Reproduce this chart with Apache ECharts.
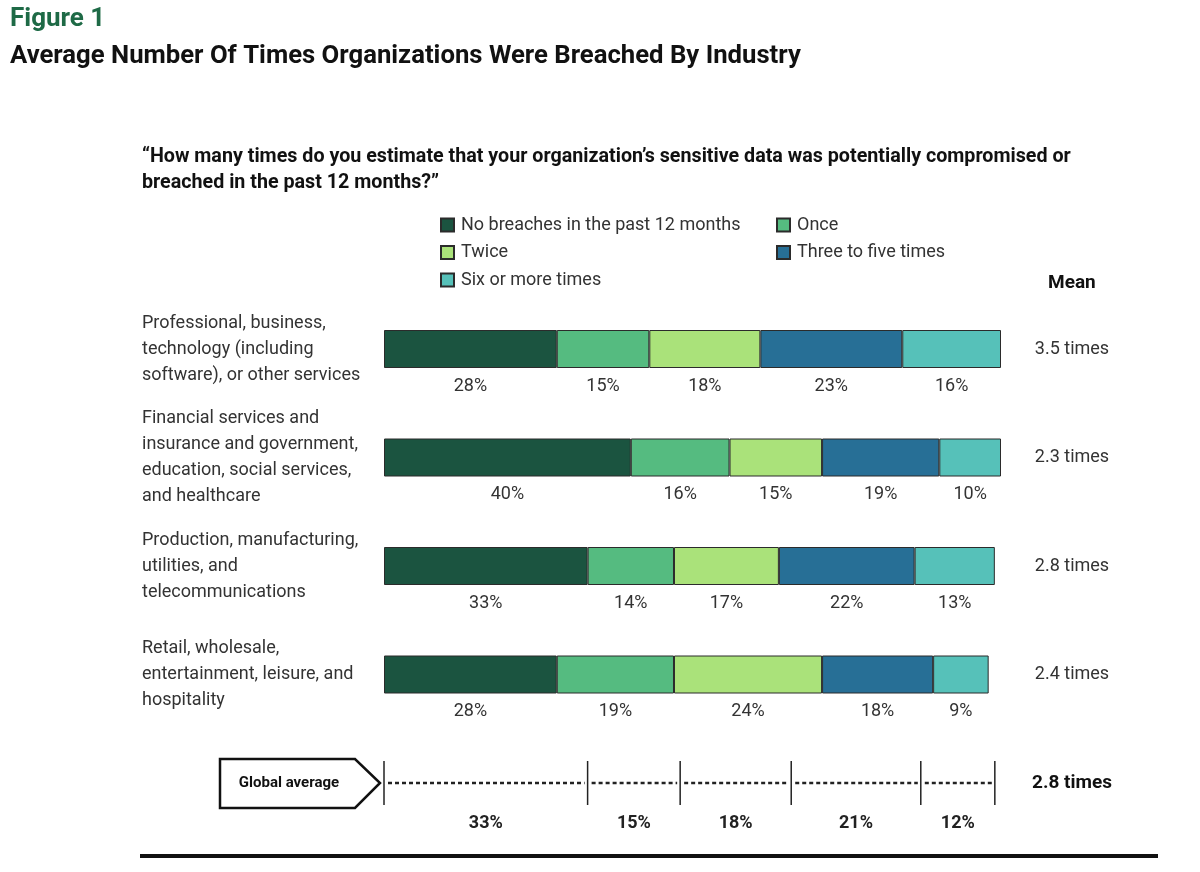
<!DOCTYPE html>
<html>
<head>
<meta charset="utf-8">
<script src="https://cdn.jsdelivr.net/npm/echarts@6/dist/echarts.min.js"></script>
<style>html,body{margin:0;padding:0;background:#fff;}#c{width:1200px;height:872px;}</style>
</head>
<body>
<div id="c"></div>
<script>
const categories = [
  'Professional, business,\ntechnology (including\nsoftware), or other services',
  'Financial services and\ninsurance and government,\neducation, social services,\nand healthcare',
  'Production, manufacturing,\nutilities, and\ntelecommunications',
  'Retail, wholesale,\nentertainment, leisure, and\nhospitality',
  'Global average'
];
const seriesNames = ['No breaches in the past 12 months', 'Once', 'Twice', 'Three to five times', 'Six or more times'];
const noBreaches = [28, 40, 33, 28];
const once = [15, 16, 14, 19];
const twice = [18, 15, 17, 24];
const threeToFive = [23, 19, 22, 18];
const sixOrMore = [16, 10, 13, 9];
const globalAverage = [33, 15, 18, 21, 12];
const meanLabels = ['3.5 times', '2.3 times', '2.8 times', '2.4 times', '2.8 times'];
const colors = ['#1b5440', '#55bb80', '#aae27a', '#276f96', '#56c1b9'];

const FONT = 'Roboto, "Liberation Sans", sans-serif';
const chart = echarts.init(document.getElementById('c'));

const seriesData = [noBreaches, once, twice, threeToFive, sixOrMore];
const barSeries = seriesData.map((arr, i) => ({
  name: seriesNames[i],
  type: 'bar',
  stack: 'total',
  barWidth: 38,
  data: arr.concat(['-']),
  itemStyle: { color: colors[i], borderColor: '#2b2b2b', borderWidth: 1 },
  label: {
    show: true, position: 'bottom', distance: 9,
    formatter: '{c}%', fontSize: 18, color: '#333', fontFamily: FONT
  },
  emphasis: { disabled: true }
}));

// global average segments (start, end, pct, category)
let acc = 0;
const globalData = globalAverage.map(v => {
  const item = [acc, acc + v, v, categories.length - 1];
  acc += v;
  return item;
});

const globalSeries = {
  type: 'custom',
  name: 'global',
  data: globalData,
  encode: { x: [0, 1], y: 3 },
  silent: true,
  renderItem: function (params, api) {
    const s = api.coord([api.value(0), api.value(3)]);
    const e = api.coord([api.value(1), api.value(3)]);
    const y = s[1];
    const children = [];
    children.push({
      type: 'line',
      shape: { x1: s[0] + 4, y1: y, x2: e[0] - 3, y2: y },
      style: { stroke: '#222', lineWidth: 2.5, lineDash: [4, 3] }
    });
    children.push({
      type: 'line',
      shape: { x1: s[0], y1: y - 22, x2: s[0], y2: y + 22 },
      style: { stroke: '#222', lineWidth: 1.5 }
    });
    if (params.dataIndex === globalData.length - 1) {
      children.push({
        type: 'line',
        shape: { x1: e[0], y1: y - 22, x2: e[0], y2: y + 22 },
        style: { stroke: '#222', lineWidth: 1.5 }
      });
    }
    children.push({
      type: 'text',
      style: {
        x: (s[0] + e[0]) / 2, y: y + 40, text: api.value(2) + '%',
        align: 'center', verticalAlign: 'middle',
        font: 'bold 18px ' + FONT, fill: '#222'
      }
    });
    if (params.dataIndex === 0) {
      const x0 = s[0];
      children.push({
        type: 'polygon',
        shape: { points: [[x0 - 164, y - 24], [x0 - 29, y - 24], [x0 - 4, y], [x0 - 29, y + 25], [x0 - 164, y + 25]] },
        style: { fill: '#fff', stroke: '#111', lineWidth: 2.5 }
      });
      children.push({
        type: 'text',
        style: {
          x: x0 - 95, y: y, text: 'Global average',
          align: 'center', verticalAlign: 'middle',
          font: 'bold 15px ' + FONT, fill: '#111'
        }
      });
    }
    return { type: 'group', children: children };
  }
};

const option = {
  backgroundColor: '#fff',
  animation: false,
  title: [
    { text: 'Figure 1', left: 10, top: 6, padding: 0, textStyle: { fontFamily: FONT, fontSize: 26, fontWeight: 'bold', color: '#1e6a46' } },
    { text: 'Average Number Of Times Organizations Were Breached By Industry', left: 10, top: 44, padding: 0, textStyle: { fontFamily: FONT, fontSize: 25.7, fontWeight: 'bold', color: '#111' } },
    { text: '\u201cHow many times do you estimate that your organization\u2019s sensitive data was potentially compromised or\nbreached in the past 12 months?\u201d', left: 142, top: 144, padding: 0, textStyle: { fontFamily: FONT, fontSize: 19.7, fontWeight: 'bold', color: '#111', lineHeight: 26 } }
  ],
  legend: [
    {
      data: [seriesNames[0], seriesNames[2], seriesNames[4]],
      orient: 'vertical', left: 440, top: 216, padding: 0, itemGap: 9.5,
      itemWidth: 13, itemHeight: 13, icon: 'rect', selectedMode: false,
      textStyle: { fontFamily: FONT, fontSize: 18, color: '#333', lineHeight: 18, padding: [0, 0, 0, 2] }
    },
    {
      data: [seriesNames[1], seriesNames[3]],
      orient: 'vertical', left: 776, top: 216, padding: 0, itemGap: 9.5,
      itemWidth: 13, itemHeight: 13, icon: 'rect', selectedMode: false,
      textStyle: { fontFamily: FONT, fontSize: 18, color: '#333', lineHeight: 18, padding: [0, 0, 0, 2] }
    }
  ],
  grid: { left: 384, right: 199, top: 294.75, bottom: 34.75, containLabel: false },
  xAxis: { type: 'value', min: 0, max: 100, show: false },
  yAxis: [
    {
      type: 'category', data: categories, inverse: true, position: 'left',
      axisLine: { show: false }, axisTick: { show: false }, splitLine: { show: false },
      axisLabel: {
        margin: 242, align: 'left', fontFamily: FONT, fontSize: 18, color: '#333', lineHeight: 26,
        formatter: (v, i) => (i === categories.length - 1 ? '' : v)
      }
    },
    {
      type: 'category', data: meanLabels.map((m, i) => i + ''), inverse: true, position: 'right',
      axisLine: { show: false }, axisTick: { show: false }, splitLine: { show: false },
      axisLabel: {
        margin: 71, align: 'center', fontFamily: FONT, fontSize: 18, color: '#333',
        formatter: (v, i) => (i === meanLabels.length - 1 ? '{b|' + meanLabels[i] + '}' : meanLabels[i]),
        rich: { b: { fontFamily: FONT, fontSize: 19, fontWeight: 'bold', color: '#111' } }
      }
    }
  ],
  graphic: [
    { type: 'text', left: 1048, top: 274, style: { text: 'Mean', font: 'bold 19px ' + FONT, fill: '#111' } },
    { type: 'line', shape: { x1: 140, y1: 856, x2: 1158, y2: 856 }, style: { stroke: '#111', lineWidth: 4 } }
  ],
  series: barSeries.concat([globalSeries])
};
chart.setOption(option);
</script>
</body>
</html>
